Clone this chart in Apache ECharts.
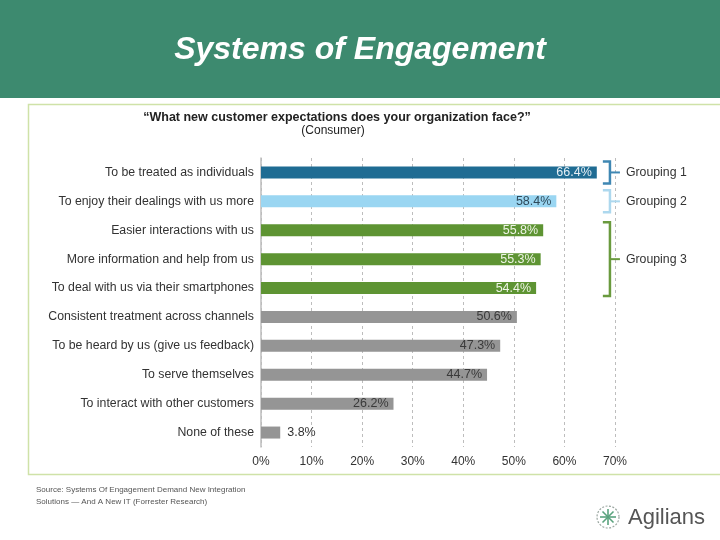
<!DOCTYPE html>
<html><head><meta charset="utf-8">
<script src="https://cdn.jsdelivr.net/npm/echarts@6/dist/echarts.min.js"></script>
<style>html,body{margin:0;padding:0;background:#fff}#c{width:720px;height:540px}</style>
</head><body><div id="c"></div>
<script>
const categories = [
  'To be treated as individuals',
  'To enjoy their dealings with us more',
  'Easier interactions with us',
  'More information and help from us',
  'To deal with us via their smartphones',
  'Consistent treatment across channels',
  'To be heard by us (give us feedback)',
  'To serve themselves',
  'To interact with other customers',
  'None of these'
];
const values = [66.4, 58.4, 55.8, 55.3, 54.4, 50.6, 47.3, 44.7, 26.2, 3.8];
const groupOf = [1, 2, 3, 3, 3, 0, 0, 0, 0, 0];
const groupNames = ['Grouping 1', 'Grouping 2', 'Grouping 3'];
const groupFrom = [0, 1, 2];
const groupTo = [0, 1, 4];
const tickLabels = ['0%', '10%', '20%', '30%', '40%', '50%', '60%', '70%'];

const barColors = ['#959595', '#1f6c93', '#9ad6f2', '#5e9433'];
const labelColors = ['#3a3a3a', '#e4eef4', '#2f4a5a', '#eef4e6'];
const bracketColors = ['#3f87b3', '#add8ee', '#6a9a3e'];

const chart = echarts.init(document.getElementById('c'));
const F = 'Liberation Sans, Arial, sans-serif';

const option = {
  animation: false,
  grid: { left: 261, right: 105, top: 158, bottom: 93, containLabel: false },
  xAxis: {
    type: 'value', min: 0, max: 70, interval: 10,
    axisLine: { show: false }, axisTick: { show: false },
    splitLine: { show: true, lineStyle: { color: '#bdbdbd', type: [3, 3], width: 1 } },
    axisLabel: { color: '#333', fontFamily: F, fontSize: 12, margin: 9,
      formatter: (v) => tickLabels[Math.round(v / 10)] }
  },
  yAxis: {
    type: 'category', data: categories, inverse: true,
    axisLine: { show: true, lineStyle: { color: '#bdbdbd', width: 1.5 } },
    axisTick: { show: false },
    axisLabel: { color: '#333', fontFamily: F, fontSize: 12.3, margin: 7 }
  },
  series: [
    {
      type: 'bar', barWidth: 12,
      data: values.map((v, i) => ({
        value: v,
        itemStyle: { color: barColors[groupOf[i]] },
        label: v < 10
          ? { show: true, position: 'right', color: '#333', distance: 7 }
          : { show: true, position: 'insideRight', color: labelColors[groupOf[i]], distance: 5 }
      })),
      label: { fontFamily: F, fontSize: 12.5, formatter: (p) => p.value.toFixed(1) + '%' }
    },
    {
      type: 'custom', silent: true, clip: false,
      data: groupNames.map((n, i) => [groupFrom[i], groupTo[i]]),
      encode: { y: [0, 1] },
      renderItem: function (params, api) {
        const i = params.dataIndex;
        const from = api.value(0), to = api.value(1);
        const pTop = api.coord([67.6, from]);
        const pBot = api.coord([67.6, to]);
        const xl = pTop[0];
        const xv = api.coord([69.0, from])[0];
        const top = pTop[1] - (from === to ? 11 : 8);
        const bot = pBot[1] + (from === to ? 11 : 8);
        const mid = (top + bot) / 2;
        const col = bracketColors[i];
        const ls = { stroke: col, lineWidth: 2.5, fill: null };
        return {
          type: 'group',
          children: [
            { type: 'polyline', shape: { points: [[xl, top], [xv, top], [xv, bot], [xl, bot]] }, style: ls },
            { type: 'line', shape: { x1: xv, y1: mid, x2: xv + 10, y2: mid }, style: { stroke: col, lineWidth: 2 } },
            { type: 'text', style: { text: groupNames[i], x: xv + 16, y: mid, fill: '#333',
              font: '12.3px ' + F, verticalAlign: 'middle', textAlign: 'left' } }
          ]
        };
      }
    }
  ],
  graphic: [
    { type: 'rect', shape: { x: 0, y: 0, width: 720, height: 98 }, style: { fill: '#3d8a6f' }, z: -10 },
    { type: 'text', style: { text: 'Systems of Engagement', x: 360, y: 50, fill: '#ffffff',
      font: 'italic bold 32px ' + F, textAlign: 'center', textVerticalAlign: 'middle' } },
    { type: 'rect', shape: { x: 28.5, y: 104.5, width: 700, height: 370 },
      style: { fill: 'none', stroke: '#cfe2a8', lineWidth: 1.5 }, z: -10 },
    { type: 'text', style: { text: '\u201cWhat new customer expectations does your organization face?\u201d', x: 337, y: 118,
      fill: '#222', font: 'bold 12.5px ' + F, textAlign: 'center', textVerticalAlign: 'middle' } },
    { type: 'text', style: { text: '(Consumer)', x: 333, y: 131,
      fill: '#222', font: '12px ' + F, textAlign: 'center', textVerticalAlign: 'middle' } },
    { type: 'text', style: { text: 'Source: Systems Of Engagement Demand New Integration\nSolutions \u2014 And A New IT (Forrester Research)',
      x: 36, y: 484, fill: '#555', font: '8px Liberation Sans Narrow, ' + F, lineHeight: 12, textAlign: 'left' } },
    { type: 'circle', shape: { cx: 608, cy: 517, r: 11 }, style: { fill: 'none', stroke: '#9aa6a0', lineWidth: 1.2, lineDash: [2, 1.5] } },
    { type: 'line', shape: { x1: 608, y1: 509, x2: 608, y2: 525 }, style: { stroke: '#5aa37e', lineWidth: 1.6 } },
    { type: 'line', shape: { x1: 600, y1: 517, x2: 616, y2: 517 }, style: { stroke: '#5aa37e', lineWidth: 1.6 } },
    { type: 'line', shape: { x1: 602.5, y1: 511.5, x2: 613.5, y2: 522.5 }, style: { stroke: '#5aa37e', lineWidth: 1.6 } },
    { type: 'line', shape: { x1: 613.5, y1: 511.5, x2: 602.5, y2: 522.5 }, style: { stroke: '#5aa37e', lineWidth: 1.6 } },
    { type: 'text', style: { text: 'Agilians', x: 628, y: 518, fill: '#555',
      font: '22px ' + F, textAlign: 'left', textVerticalAlign: 'middle' } }
  ]
};
chart.setOption(option);
</script>
</body></html>
